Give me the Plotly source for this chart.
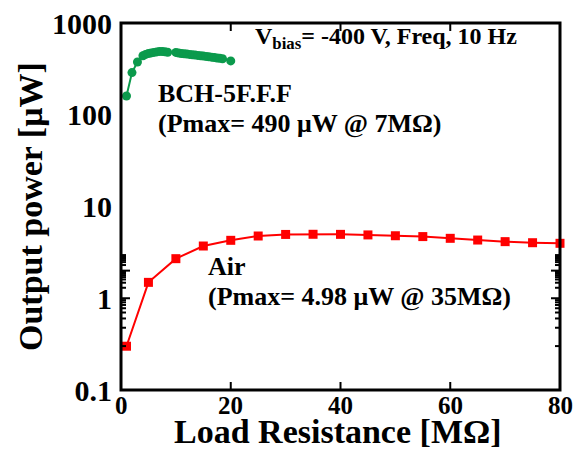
import math
import plotly.graph_objects as go

# Data
air_r = [1, 5, 10, 15, 20, 25, 30, 35, 40, 45, 50, 55, 60, 65, 70, 75, 80]
air_p = [0.30, 1.49, 2.70, 3.71, 4.28, 4.77, 4.96, 4.98, 4.97, 4.90, 4.80, 4.70, 4.50, 4.31, 4.14, 4.03, 3.97]

bch_r = [1, 2, 3, 4, 4.5, 5, 5.5, 6, 6.5, 7, 7.5, 8, 8.5, 10, 10.5, 11, 11.5, 12, 12.5,
         13, 13.5, 14, 14.5, 15, 15.5, 16, 16.5, 17, 17.5, 18, 18.5, 20]
bch_p = [160, 288, 376, 440, 455, 465, 472, 478, 484, 490, 488, 485, 480, 478, 470, 465,
         462, 458, 455, 450, 447, 443, 440, 436, 432, 428, 424, 420, 416, 412, 408, 386]

y_tickvals = [0.1, 1, 10, 100, 1000]
y_ticktext = ["0.1", "1", "10", "100", "1000"]
y_minor = [m * d for d in [0.1, 1, 10, 100] for m in range(2, 10)]
x_tickvals = [0, 20, 40, 60, 80]
x_ticktext = ["0", "20", "40", "60", "80"]

FONT = "Liberation Serif"
GREEN = "#0b9a4c"
RED = "#ff0000"
INK = "black"

fig = go.Figure()
fig.add_trace(go.Scatter(x=air_r, y=air_p, mode="lines+markers",
                         line=dict(color=RED, width=2),
                         marker=dict(symbol="square", size=9, color=RED),
                         showlegend=False, cliponaxis=False))
fig.add_trace(go.Scatter(x=bch_r, y=bch_p, mode="lines+markers",
                         line=dict(color=GREEN, width=2),
                         marker=dict(symbol="circle", size=9, color=GREEN),
                         showlegend=False))

OFF = 8  # page body margin
W, H = 586 - 2 * OFF, 457 - 2 * OFF
L, R, T, B = 121 - OFF, 586 - 560 - OFF, 23 - OFF, 457 - 390 - OFF
pw, ph = W - L - R, H - T - B

def px(x):
    return (x - OFF - L) / pw

def py(y):
    return (H - B - (y - OFF)) / ph

# frame and ticks (drawn as shapes)
shapes = [dict(type="rect", xref="paper", yref="paper", x0=0, y0=0, x1=1, y1=1,
               line=dict(color=INK, width=3), layer="above")]
for v in x_tickvals[1:-1]:
    for anchor, ln in [(0, 8), (1, -8)]:
        shapes.append(dict(type="line", xref="x", x0=v, x1=v, yref="paper",
                           ysizemode="pixel", yanchor=anchor, y0=0, y1=ln,
                           line=dict(color=INK, width=2), layer="above"))
for vals, ln in [(y_tickvals[1:-1], 9), (y_minor, 5)]:
    for v in vals:
        lv = math.log10(v)
        for anchor, d in [(0, ln), (1, -ln)]:
            shapes.append(dict(type="line", yref="y", y0=lv, y1=lv, xref="paper",
                               xsizemode="pixel", xanchor=anchor, x0=0, x1=d,
                               line=dict(color=INK, width=2), layer="above"))

fig.update_layout(
    width=W, height=H,
    margin=dict(l=L, r=R, t=T, b=B, autoexpand=False),
    plot_bgcolor="white", paper_bgcolor="white",
    font=dict(family=FONT, color="black"),
    xaxis=dict(range=[0, 80], tickmode="array", tickvals=x_tickvals, ticks="",
               showticklabels=False, showline=False, showgrid=False, zeroline=False,
               automargin=False),
    yaxis=dict(type="log", range=[-1, 3], tickmode="array", tickvals=y_tickvals,
               ticktext=y_ticktext, ticklabeloverflow="allow", ticks="",
               showline=False, showgrid=False, zeroline=False, automargin=False,
               tickfont=dict(family=FONT, size=30, color="black", weight="bold"),
               ticklabelstandoff=8),
    shapes=shapes,
)

def ann(text, x, y, size, bold=True, xanchor="left", textangle=0, xref="paper"):
    fig.add_annotation(text=text, xref=xref, yref="paper", x=x, y=y,
                       xanchor=xanchor, yanchor="middle", showarrow=False,
                       textangle=textangle,
                       font=dict(family=FONT, size=size, color="black",
                                 weight="bold" if bold else "normal"))

for v, t in zip(x_tickvals, x_ticktext):
    ann(t, v, py(405), 25, xanchor="center", xref="x")

ann("BCH-5F.F.F", px(156), py(94), 26)
ann("(Pmax= 490 μW @ 7MΩ)", px(156), py(124), 26)
ann("Air", px(206), py(266), 26)
ann("(Pmax= 4.98 μW @ 35MΩ)", px(206), py(297), 26)
ann("V<sub>bias</sub>= -400 V, Freq, 10 Hz", px(253), py(38), 24)
ann("Load Resistance [MΩ]", px(338), py(432), 34, xanchor="center")
ann("Output power [μW]", px(30), py(207), 34, xanchor="center", textangle=-90)

fig.write_html("out.html")
